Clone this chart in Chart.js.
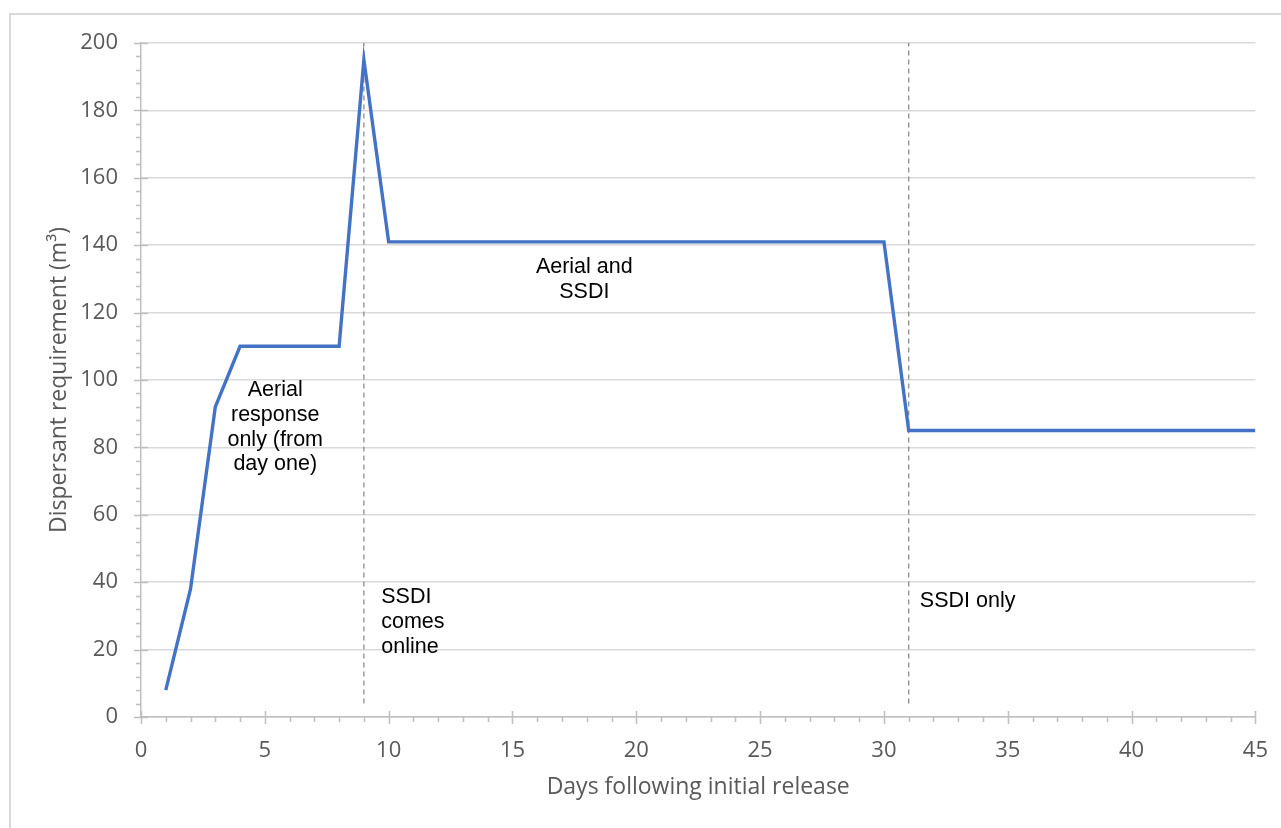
<!DOCTYPE html>
<html>
<head>
<meta charset="utf-8">
<script src="https://cdn.jsdelivr.net/npm/chart.js@4"></script>
<style>
  html, body { margin: 0; padding: 0; background: #fff; overflow: hidden; }
  #frame { position: absolute; left: 9px; top: 13px; width: 1300px; height: 840px; border: 2px solid #d9d9d9; box-sizing: border-box; }
  #wrap { position: absolute; left: 0; top: 0; width: 1281px; height: 828px; }
</style>
</head>
<body>
<div id="frame"></div>
<div id="wrap"><canvas id="chart"></canvas></div>
<script>
// data
const days = [1, 2, 3, 4, 8, 9, 10, 30, 31, 45];
const requirement = [8, 38, 92, 110, 110, 195, 141, 141, 85, 85];

// dashed markers: SSDI comes online (day 9) and SSDI only (day 31)
const markerDays = [9, 31];
const markerRange = [4, 200];

// text notes, anchored in data units [day, value at first line]
const notes = [
  { lines: ['Aerial', 'response', 'only (from', 'day one)'], x: 5.42, y: 97, align: 'center' },
  { lines: ['SSDI', 'comes', 'online'], x: 9.7, y: 35.5, align: 'left' },
  { lines: ['Aerial and', 'SSDI'], x: 17.9, y: 133.5, align: 'center' },
  { lines: ['SSDI only'], x: 31.45, y: 34.3, align: 'left' }
];

const axisFont = '"Open Sans", sans-serif';
const tickColor = '#595959';

const datasets = [{
  data: days.map((d, i) => ({ x: d, y: requirement[i] })),
  borderColor: '#4472C4',
  borderWidth: 3.4,
  pointRadius: 0,
  tension: 0,
  order: 1
}];
markerDays.forEach(d => {
  datasets.push({
    data: markerRange.map(v => ({ x: d, y: v })),
    borderColor: '#8c8c8c',
    borderWidth: 1.3,
    borderDash: [5, 4],
    pointRadius: 0,
    order: 2
  });
});

// minor/major tick marks (Excel style) and the text notes
const decor = {
  id: 'decor',
  afterDraw(chart) {
    const ctx = chart.ctx;
    const xs = chart.scales.x, ys = chart.scales.y;
    const x0 = xs.getPixelForValue(0), y0 = ys.getPixelForValue(0);
    ctx.save();
    ctx.strokeStyle = '#bfbfbf';
    ctx.lineWidth = 1.5;
    ctx.beginPath();
    for (let v = 0; v <= 45; v++) {
      const px = Math.round(xs.getPixelForValue(v)) + 0.5;
      if (v % 5 === 0) { ctx.moveTo(px, y0 - 6); ctx.lineTo(px, y0 + 7); }
      else { ctx.moveTo(px, y0); ctx.lineTo(px, y0 + 5); }
    }
    for (let v = 0; v <= 200; v += 4) {
      const py = Math.round(ys.getPixelForValue(v)) + 0.5;
      if (v % 20 === 0) { ctx.moveTo(x0 - 7, py); ctx.lineTo(x0 + 7, py); }
      else { ctx.moveTo(x0 - 5, py); ctx.lineTo(x0, py); }
    }
    ctx.stroke();

    ctx.fillStyle = '#000';
    ctx.font = '21.5px "Liberation Sans", Arial, sans-serif';
    ctx.textBaseline = 'middle';
    notes.forEach(n => {
      ctx.textAlign = n.align;
      const px = xs.getPixelForValue(n.x);
      const py = ys.getPixelForValue(n.y);
      n.lines.forEach((t, i) => ctx.fillText(t, px, py + i * 24.8));
    });
    ctx.restore();
  }
};

new Chart(document.getElementById('chart'), {
  type: 'line',
  data: { datasets },
  options: {
    responsive: true,
    maintainAspectRatio: false,
    animation: false,
    layout: { padding: { left: 0, top: 43, right: 24, bottom: 0 } },
    plugins: { legend: { display: false }, tooltip: { enabled: false } },
    scales: {
      x: {
        type: 'linear',
        min: 0,
        max: 45,
        afterFit(s) { s.height = 111; },
        grid: { display: false },
        border: { display: true, color: '#bfbfbf', width: 1.5 },
        ticks: { stepSize: 5, color: tickColor, padding: 13, font: { family: axisFont, size: 22 } },
        title: {
          display: true,
          text: 'Days following initial release',
          color: tickColor,
          font: { family: axisFont, size: 23 },
          padding: { bottom: 27 }
        }
      },
      y: {
        min: 0,
        max: 200,
        afterFit(s) { s.width = 141; },
        grid: { color: '#d9d9d9', lineWidth: 1.5, drawTicks: false },
        border: { display: true, color: '#bfbfbf', width: 1.5 },
        ticks: { stepSize: 20, color: tickColor, padding: 23, font: { family: axisFont, size: 22 } },
        title: {
          display: true,
          text: 'Dispersant requirement (m³)',
          color: tickColor,
          font: { family: axisFont, size: 23 },
          padding: { top: 46 }
        }
      }
    }
  },
  plugins: [decor]
});
</script>
</body>
</html>
